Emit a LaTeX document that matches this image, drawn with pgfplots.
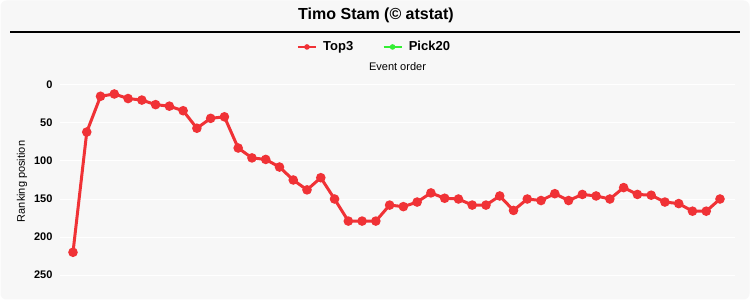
\documentclass[border=0pt]{standalone}
\usepackage{pgfplots}
\pgfplotsset{compat=1.18}
\usepackage{fontspec}
\setmainfont{Liberation Sans}
\definecolor{bgc}{HTML}{F7F7F7}
\definecolor{redl}{HTML}{F03236}
\definecolor{greenl}{HTML}{33EE33}
\begin{document}
\begin{tikzpicture}
\fill[white] (0pt,0pt) rectangle (750pt,300pt);
\fill[bgc,rounded corners=6pt] (0.5pt,0.5pt) rectangle (749.5pt,299.5pt);
\node[font=\fontsize{16}{19}\selectfont\bfseries] at (376pt,285pt) {Timo Stam (© atstat)};
\draw[black,line width=1.2pt] (10pt,268pt) -- (740pt,268pt);
\begin{axis}[
  at={(60pt,15pt)}, anchor=south west,
  scale only axis, width=675pt, height=207pt,
  xmin=0.056, xmax=49.09,
  ymin=-9, ymax=263, y dir=reverse,
  axis line style={draw=none},
  tick style={draw=none},
  xtick=\empty,
  ytick={0,50,100,150,200,250},
  ymajorgrids, grid style={white, line width=1pt},
  yticklabel style={font=\fontsize{11}{13}\selectfont\bfseries, xshift=-4pt},
  /pgf/number format/assume math mode=true,
  ylabel={Ranking position},
  ylabel style={at={(axis description cs:-0.0563,0.5)}, anchor=center, font=\fontsize{11}{13}\selectfont},
  title={Event order},
  title style={at={(axis description cs:0.5,1.024)}, anchor=center, font=\fontsize{11}{13}\selectfont},
  legend columns=2,
  legend style={at={(axis description cs:0.465,1.15)}, anchor=center, draw=none, fill=none,
    font=\fontsize{13}{15}\selectfont\bfseries, column sep=0pt,
    nodes={inner xsep=1pt}},
  /tikz/every odd column/.append style={column sep=5pt},
  /tikz/every even column/.append style={column sep=28pt},
  legend image code/.code={\draw[#1,line width=2.5pt,mark=none] (0pt,0pt) -- (18pt,0pt); \fill[#1,draw=none,line width=0pt,mark=none] (9pt,0pt) circle (2.8pt);},
]
\addplot[redl, line width=3pt, mark=*, mark size=3.2pt, mark options={fill=redl,draw=redl}] coordinates {
(1,220) (2,62) (3,15) (4,12) (5,18) (6,20) (7,26) (8,28) (9,34) (10,57)
(11,44) (12,42) (13,83) (14,96) (15,98) (16,108) (17,125) (18,138) (19,122) (20,150)
(21,179) (22,179) (23,179) (24,158) (25,160) (26,154) (27,142) (28,149) (29,150) (30,158)
(31,158) (32,146) (33,165) (34,150) (35,152) (36,143) (37,152) (38,144) (39,146) (40,150)
(41,135) (42,144) (43,145) (44,154) (45,156) (46,166) (47,166) (48,150)
};
\addlegendentry{Top3}
\addlegendimage{greenl, line width=2.5pt}
\addlegendentry{Pick20}
\end{axis}
\pgfresetboundingbox
\useasboundingbox (0pt,0pt) rectangle (750pt,300pt);
\end{tikzpicture}
\end{document}
